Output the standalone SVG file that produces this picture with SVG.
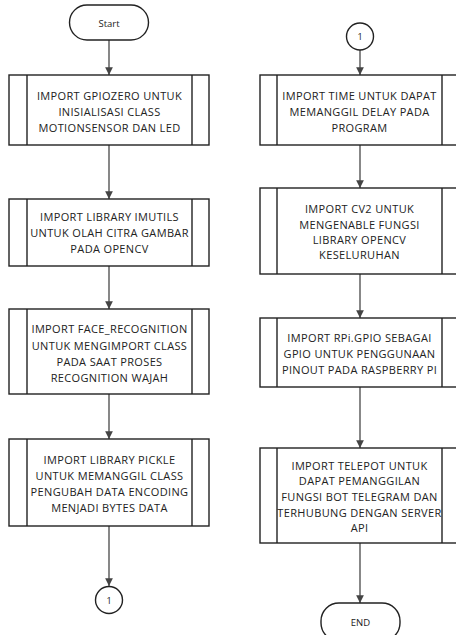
<svg xmlns="http://www.w3.org/2000/svg" width="456" height="635" viewBox="0 0 456 635">
<defs>
<marker id="ah" viewBox="0 0 10 10" refX="10" refY="5" markerWidth="5.5" markerHeight="5.5" orient="auto" markerUnits="strokeWidth">
<path d="M0,0 L10,5 L0,10 z" fill="#444"/>
</marker>
<style>
.shape{fill:#fff;stroke:#222;stroke-width:1.4}
.edge{fill:none;stroke:#555;stroke-width:1.4;marker-end:url(#ah)}
text{font-family:"Open Sans","DejaVu Sans",sans-serif;font-size:11px;letter-spacing:0.35px;fill:#222;text-anchor:middle;dominant-baseline:central}
.small{font-size:9.5px;letter-spacing:0}
</style>
</defs>
<rect width="456" height="635" fill="#fff"/>
<g id="connectors">
<line class="edge" x1="109" y1="40" x2="109" y2="75"/>
<line class="edge" x1="109" y1="145" x2="109" y2="199"/>
<line class="edge" x1="109" y1="266" x2="109" y2="309"/>
<line class="edge" x1="109" y1="394" x2="109" y2="439"/>
<line class="edge" x1="109" y1="526" x2="109" y2="586"/>
<line class="edge" x1="360" y1="50" x2="360" y2="75"/>
<line class="edge" x1="360" y1="145" x2="360" y2="188"/>
<line class="edge" x1="360" y1="274" x2="360" y2="318"/>
<line class="edge" x1="360" y1="387" x2="360" y2="448"/>
<line class="edge" x1="360" y1="543" x2="360" y2="603"/>
</g>
<g id="start">
<rect class="shape" x="69.5" y="5" width="79" height="35" rx="17.5"/>
<text class="small" x="109" y="23">Start</text>
</g>
<g id="gpiozero">
<rect class="shape" x="9" y="75" width="200" height="70"/>
<line class="shape" x1="27" y1="75" x2="27" y2="145"/>
<line class="shape" x1="192" y1="75" x2="192" y2="145"/>
<text x="109.5" y="95">IMPORT GPIOZERO UNTUK</text>
<text x="109.5" y="111">INISIALISASI CLASS</text>
<text x="109.5" y="127">MOTIONSENSOR DAN LED</text>
</g>
<g id="imutils">
<rect class="shape" x="9" y="199" width="200" height="67"/>
<line class="shape" x1="27" y1="199" x2="27" y2="266"/>
<line class="shape" x1="192" y1="199" x2="192" y2="266"/>
<text x="109.5" y="216">IMPORT LIBRARY IMUTILS</text>
<text x="109.5" y="232">UNTUK OLAH CITRA GAMBAR</text>
<text x="109.5" y="248">PADA OPENCV</text>
</g>
<g id="face">
<rect class="shape" x="9" y="309" width="200" height="85"/>
<line class="shape" x1="27" y1="309" x2="27" y2="394"/>
<line class="shape" x1="192" y1="309" x2="192" y2="394"/>
<text x="109.5" y="328">IMPORT FACE_RECOGNITION</text>
<text x="109.5" y="345">UNTUK MENGIMPORT CLASS</text>
<text x="109.5" y="361">PADA SAAT PROSES</text>
<text x="109.5" y="377">RECOGNITION WAJAH</text>
</g>
<g id="pickle">
<rect class="shape" x="9" y="439" width="200" height="87"/>
<line class="shape" x1="27" y1="439" x2="27" y2="526"/>
<line class="shape" x1="192" y1="439" x2="192" y2="526"/>
<text x="109.5" y="459">IMPORT LIBRARY PICKLE</text>
<text x="109.5" y="475">UNTUK MEMANGGIL CLASS</text>
<text x="109.5" y="491">PENGUBAH DATA ENCODING</text>
<text x="109.5" y="507">MENJADI BYTES DATA</text>
</g>
<g id="conn-out">
<circle class="shape" cx="109" cy="600" r="13.5"/>
<text class="small" x="109" y="600" style="font-size:9px">1</text>
</g>
<g id="conn-in">
<circle class="shape" cx="360" cy="36.5" r="13.5"/>
<text class="small" x="360" y="36.5" style="font-size:9px">1</text>
</g>
<g id="time">
<rect class="shape" x="260" y="75" width="200" height="70"/>
<line class="shape" x1="277" y1="75" x2="277" y2="145"/>
<line class="shape" x1="442" y1="75" x2="442" y2="145"/>
<text x="359.5" y="95">IMPORT TIME UNTUK DAPAT</text>
<text x="359.5" y="111">MEMANGGIL DELAY PADA</text>
<text x="359.5" y="127">PROGRAM</text>
</g>
<g id="cv2">
<rect class="shape" x="260" y="188" width="200" height="86"/>
<line class="shape" x1="277" y1="188" x2="277" y2="274"/>
<line class="shape" x1="442" y1="188" x2="442" y2="274"/>
<text x="359.5" y="208">IMPORT CV2 UNTUK</text>
<text x="359.5" y="224">MENGENABLE FUNGSI</text>
<text x="359.5" y="239">LIBRARY OPENCV</text>
<text x="359.5" y="254">KESELURUHAN</text>
</g>
<g id="rpigpio">
<rect class="shape" x="260" y="318" width="200" height="69"/>
<line class="shape" x1="277" y1="318" x2="277" y2="387"/>
<line class="shape" x1="442" y1="318" x2="442" y2="387"/>
<text x="359.5" y="337">IMPORT RPi.GPIO SEBAGAI</text>
<text x="359.5" y="353">GPIO UNTUK PENGGUNAAN</text>
<text x="359.5" y="369">PINOUT PADA RASPBERRY PI</text>
</g>
<g id="telepot">
<rect class="shape" x="260" y="448" width="200" height="95"/>
<line class="shape" x1="277" y1="448" x2="277" y2="543"/>
<line class="shape" x1="442" y1="448" x2="442" y2="543"/>
<text x="359.5" y="465">IMPORT TELEPOT UNTUK</text>
<text x="359.5" y="480">DAPAT PEMANGGILAN</text>
<text x="359.5" y="496">FUNGSI BOT TELEGRAM DAN</text>
<text x="359.5" y="512">TERHUBUNG DENGAN SERVER</text>
<text x="359.5" y="527">API</text>
</g>
<g id="end">
<rect class="shape" x="321" y="603" width="79" height="38" rx="18"/>
<text class="small" x="360.5" y="622">END</text>
</g>
</svg>
